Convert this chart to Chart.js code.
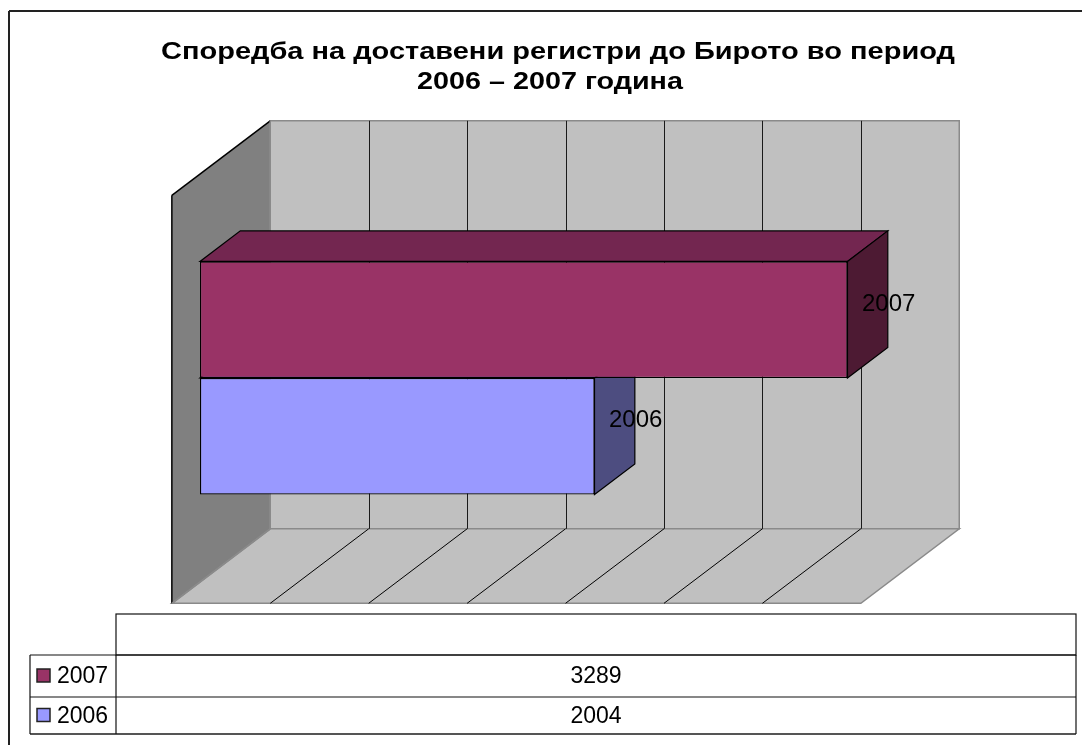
<!DOCTYPE html>
<html>
<head>
<meta charset="utf-8">
<script src="https://cdn.jsdelivr.net/npm/chart.js@4.4.1/dist/chart.umd.min.js"></script>
<style>
  html, body { margin: 0; padding: 0; background: #ffffff; }
  canvas { display: block; }
</style>
</head>
<body>
<canvas id="c" width="1082" height="745"></canvas>
<script>
// ---- data ----
const categories = [''];
const seriesNames = ['2007', '2006'];
const values2007 = [3289];
const values2006 = [2004];
const gridValues = [0, 500, 1000, 1500, 2000, 2500, 3000, 3500];
const titleLines = ['Споредба на доставени регистри до Бирото во период', '2006 – 2007 година'];

// ---- style ----
const frontColors = ['#993366', '#9999FF'];
const topColors = ['#732650', '#7373BF'];
const sideColors = ['#4D1A33', '#4D4D80'];
const FONT = '"Liberation Sans", Arial, Helvetica, sans-serif';
const DX = 98.4, DY = -74.5;      // full depth of the 3D box
const FRONT = 0.286;               // bar plane distance from front edge (fraction of depth)
const BARD = 0.41;                 // bar depth (fraction of depth)

function poly(ctx, pts, fill, stroke, lw) {
  ctx.beginPath();
  ctx.moveTo(pts[0][0], pts[0][1]);
  for (let i = 1; i < pts.length; i++) ctx.lineTo(pts[i][0], pts[i][1]);
  ctx.closePath();
  if (fill) { ctx.fillStyle = fill; ctx.fill(); }
  if (stroke) { ctx.strokeStyle = stroke; ctx.lineWidth = lw || 1; ctx.stroke(); }
}
function line(ctx, x1, y1, x2, y2, color, lw) {
  ctx.beginPath();
  ctx.moveTo(x1, y1); ctx.lineTo(x2, y2);
  ctx.strokeStyle = color; ctx.lineWidth = lw || 1; ctx.stroke();
}
function stretchedText(ctx, text, cx, y, sx) {
  ctx.save();
  ctx.translate(cx, y);
  ctx.scale(sx, 1);
  ctx.fillText(text, 0, 0);
  ctx.restore();
}

const box3d = {
  id: 'box3d',
  beforeDatasetsDraw(chart) {
    const { ctx, chartArea: a, scales: { x } } = chart;
    const B = 1 - FRONT;
    const max = gridValues[gridValues.length - 1];
    const fx = v => x.getPixelForValue(v) - FRONT * DX;
    const bx = v => x.getPixelForValue(v) + B * DX;
    const topF = a.top - FRONT * DY, botF = a.bottom - FRONT * DY;
    const topB = a.top + B * DY, botB = a.bottom + B * DY;
    ctx.save();
    // side wall
    poly(ctx, [[fx(0), topF], [bx(0), topB], [bx(0), botB], [fx(0), botF]], '#808080');
    // back wall
    poly(ctx, [[bx(0), topB], [bx(max), topB], [bx(max), botB], [bx(0), botB]], '#C0C0C0', '#8a8a8a', 1.5);
    // floor
    poly(ctx, [[fx(0), botF], [fx(max), botF], [bx(max), botB], [bx(0), botB]], '#C0C0C0', '#8a8a8a', 1.5);
    // grid lines
    gridValues.forEach(v => {
      if (v === 0 || v === max) return;
      const gx = Math.round(bx(v)) + 0.5;
      line(ctx, gx, topB, gx, botB, '#1a1a1a', 1);
      line(ctx, bx(v), botB, fx(v), botF, '#000000', 1);
    });
    // side wall outline
    line(ctx, fx(0), botF, fx(0), topF, '#000000', 1.5);
    line(ctx, fx(0), topF, bx(0), topB, '#000000', 1.5);
    line(ctx, bx(0), topB, bx(0), botB, '#8a8a8a', 1.5);
    line(ctx, bx(0), botB, fx(0), botF, '#8a8a8a', 1.5);
    // bar top and side faces (lower bar first)
    const ddx = BARD * DX, ddy = BARD * DY;
    for (let di = chart.data.datasets.length - 1; di >= 0; di--) {
      const meta = chart.getDatasetMeta(di);
      meta.data.forEach(el => {
        const p = el.getProps(['x', 'y', 'base', 'height'], true);
        const x0 = p.base, x1 = p.x, yT = p.y - p.height / 2, yB = p.y + p.height / 2;
        poly(ctx, [[x0, yT], [x1, yT], [x1 + ddx, yT + ddy], [x0 + ddx, yT + ddy]], topColors[di], '#000', 1.2);
        poly(ctx, [[x1, yT], [x1 + ddx, yT + ddy], [x1 + ddx, yB + ddy], [x1, yB]], sideColors[di], '#000', 1.2);
      });
    }
    ctx.restore();
  },
  afterDatasetsDraw(chart) {
    const { ctx } = chart;
    ctx.save();
    ctx.font = '24px ' + FONT;
    ctx.fillStyle = '#000';
    ctx.textAlign = 'left';
    ctx.textBaseline = 'middle';
    chart.data.datasets.forEach((ds, di) => {
      chart.getDatasetMeta(di).data.forEach(el => {
        const p = el.getProps(['x', 'y'], true);
        ctx.fillText(ds.label, p.x + 14.5, p.y - 15.5);
      });
    });
    ctx.restore();
  },
  afterDraw(chart) {
    const { ctx } = chart;
    ctx.save();
    // outer frame
    line(ctx, 9, 11, 1082, 11, '#222', 2);
    line(ctx, 9, 11, 9, 745, '#222', 2);
    // title
    ctx.fillStyle = '#000';
    ctx.font = 'bold 23px ' + FONT;
    ctx.textAlign = 'center';
    ctx.textBaseline = 'alphabetic';
    stretchedText(ctx, titleLines[0], 558, 59, 1.26);
    stretchedText(ctx, titleLines[1], 550, 89, 1.25);
    // data table
    const L = 30, C = 116, R = 1076;
    const rows = [614, 655, 697, 734];
    ctx.strokeStyle = '#111';
    ctx.lineWidth = 1.2;
    ctx.strokeRect(C, rows[0], R - C, rows[1] - rows[0]);
    line(ctx, L, rows[1], R, rows[1], '#111', 1.2);
    line(ctx, L, rows[2], R, rows[2], '#111', 1.2);
    line(ctx, L, rows[3], R, rows[3], '#555', 2);
    line(ctx, L, rows[1], L, rows[3], '#111', 1.2);
    line(ctx, C, rows[1], C, rows[3], '#111', 1.2);
    line(ctx, R, rows[1], R, rows[3], '#111', 1.2);
    const tableVals = [values2007[0], values2006[0]];
    for (let i = 0; i < 2; i++) {
      const cy = (rows[i + 1] + rows[i + 2]) / 2;
      ctx.fillStyle = frontColors[i];
      ctx.fillRect(37, cy - 7, 13, 13);
      ctx.strokeStyle = '#222';
      ctx.lineWidth = 1.5;
      ctx.strokeRect(37, cy - 7, 13, 13);
      ctx.fillStyle = '#000';
      ctx.font = '23px ' + FONT;
      ctx.textAlign = 'left';
      ctx.textBaseline = 'middle';
      ctx.fillText(seriesNames[i], 57, cy + 1);
      ctx.textAlign = 'center';
      ctx.fillText(String(tableVals[i]), (C + R) / 2, cy + 1);
    }
    ctx.restore();
  }
};

new Chart(document.getElementById('c'), {
  type: 'bar',
  data: {
    labels: categories,
    datasets: [
      { label: seriesNames[0], data: values2007, backgroundColor: frontColors[0], borderColor: '#000', borderWidth: 1.2, borderSkipped: false },
      { label: seriesNames[1], data: values2006, backgroundColor: frontColors[1], borderColor: '#000', borderWidth: 1.2, borderSkipped: false }
    ]
  },
  options: {
    indexAxis: 'y',
    responsive: false,
    animation: false,
    devicePixelRatio: 1,
    layout: { padding: { left: 200, right: 193, top: 174, bottom: 163 } },
    datasets: { bar: { categoryPercentage: 2 / 3.5, barPercentage: 1 } },
    scales: {
      x: { display: false, min: gridValues[0], max: gridValues[gridValues.length - 1] },
      y: { display: false }
    },
    plugins: {
      legend: { display: false },
      title: { display: false },
      tooltip: { enabled: false }
    }
  },
  plugins: [box3d]
});
</script>
</body>
</html>
